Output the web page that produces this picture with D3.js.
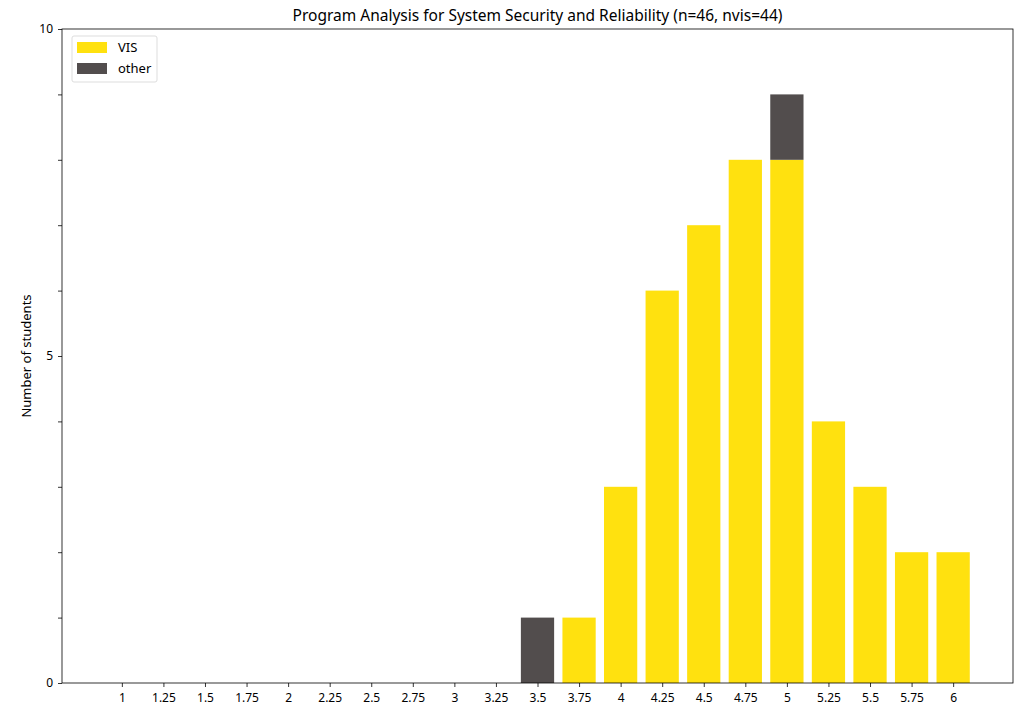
<!DOCTYPE html>
<html>
<head>
<meta charset="utf-8">
<script src="https://cdn.jsdelivr.net/npm/d3@7"></script>
<style>
  body { margin: 0; background: #fff; }
  text { font-family: "Source Sans Pro", "Noto Sans", sans-serif; fill: #000; }
</style>
</head>
<body>
<div id="container"></div>
<script>
const grades = [1, 1.25, 1.5, 1.75, 2, 2.25, 2.5, 2.75, 3, 3.25, 3.5, 3.75, 4, 4.25, 4.5, 4.75, 5, 5.25, 5.5, 5.75, 6]
const visCounts = [0, 0, 0, 0, 0, 0, 0, 0, 0, 0, 0, 1, 3, 6, 7, 8, 8, 4, 3, 2, 2]
const otherCounts = [0, 0, 0, 0, 0, 0, 0, 0, 0, 0, 1, 0, 0, 0, 0, 0, 1, 0, 0, 0, 0]
const yTicks = [0, 1, 2, 3, 4, 5, 6, 7, 8, 9, 10]
const yLabels = [0, 5, 10]
const title = "Program Analysis for System Security and Reliability (n=46, nvis=44)"

const width = 1027
const height = 708
const margin = { top: 29, right: 14, bottom: 25, left: 62 }
const yellow = "#ffe10f"
const dark = "#524d4d"

const svg = d3.select("#container").append("svg")
    .attr("width", width)
    .attr("height", height)

const x = d3.scaleLinear()
    .domain([0.64, 6.36])
    .range([margin.left, width - margin.right])

const y = d3.scaleLinear()
    .domain([0, 10])
    .range([height - margin.bottom, margin.top])

const barW = x(0.2) - x(0)

const rows = grades.map((g, i) => ({ g, vis: visCounts[i], other: otherCounts[i] }))

// VIS bars
svg.append("g").selectAll("rect")
    .data(rows.filter(d => d.vis > 0))
    .enter().append("rect")
    .attr("x", d => x(d.g - 0.1))
    .attr("y", d => y(d.vis))
    .attr("width", barW)
    .attr("height", d => y(0) - y(d.vis))
    .attr("fill", yellow)

// other bars, stacked on VIS
svg.append("g").selectAll("rect")
    .data(rows.filter(d => d.other > 0))
    .enter().append("rect")
    .attr("x", d => x(d.g - 0.1))
    .attr("y", d => y(d.vis + d.other))
    .attr("width", barW)
    .attr("height", d => y(d.vis) - y(d.vis + d.other))
    .attr("fill", dark)

// axes
const xAxis = svg.append("g")
    .attr("transform", `translate(0,${height - margin.bottom})`)
    .call(d3.axisBottom(x).tickValues(grades).tickFormat(d => d).tickSize(4).tickPadding(6))

const yAxis = svg.append("g")
    .attr("transform", `translate(${margin.left},0)`)
    .call(d3.axisLeft(y).tickValues(yTicks).tickFormat(d => yLabels.includes(d) ? d : "").tickSize(4).tickPadding(5))

svg.selectAll(".domain").remove()
svg.selectAll(".tick line").attr("stroke", "#000").attr("stroke-width", 0.8)
svg.selectAll(".tick text").attr("font-size", 12).attr("font-family", "Source Sans Pro, Noto Sans, sans-serif")

// frame
svg.append("rect")
    .attr("x", margin.left)
    .attr("y", margin.top)
    .attr("width", width - margin.left - margin.right)
    .attr("height", height - margin.top - margin.bottom)
    .attr("fill", "none")
    .attr("stroke", "#000")
    .attr("stroke-width", 0.8)

svg.append("text")
    .attr("x", (margin.left + width - margin.right) / 2)
    .attr("y", margin.top - 8)
    .attr("text-anchor", "middle")
    .attr("font-size", 15.5)
    .text(title)

svg.append("text")
    .attr("transform", `translate(31,${(margin.top + height - margin.bottom) / 2}) rotate(-90)`)
    .attr("text-anchor", "middle")
    .attr("font-size", 13)
    .text("Number of students")

// legend
const legend = svg.append("g").attr("transform", `translate(${margin.left + 10},${margin.top + 7})`)
legend.append("rect")
    .attr("width", 85).attr("height", 46).attr("rx", 2)
    .attr("fill", "#fff").attr("stroke", "#ddd")
const items = [["VIS", yellow], ["other", dark]]
items.forEach(([name, c], i) => {
    legend.append("rect")
        .attr("x", 5).attr("y", 6 + i * 21)
        .attr("width", 30).attr("height", 11)
        .attr("fill", c)
    legend.append("text")
        .attr("x", 46).attr("y", 16 + i * 21)
        .attr("font-size", 13)
        .text(name)
})
</script>
</body>
</html>
